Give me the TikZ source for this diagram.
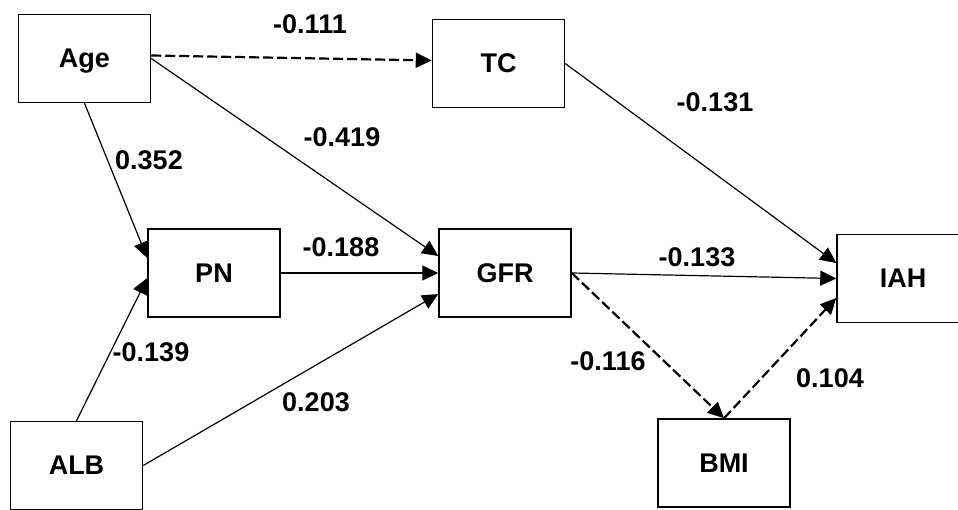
\documentclass[tikz,border=0pt]{standalone}
\usepackage{fontspec}
\setmainfont{Liberation Sans}
\usepackage{xcolor}
\usepackage{tikz}
\usetikzlibrary{arrows.meta}
\definecolor{pmInk}{HTML}{000000}
\definecolor{pmPaper}{HTML}{FFFFFF}
\tikzset{
  pm diagram/.style={font=\bfseries\fontsize{27}{32}\selectfont, text=pmInk,
    line join=miter},
  pm box/.style={draw=pmInk, fill=pmPaper, line width=1.5pt,
    minimum width=132pt, minimum height=88pt, inner sep=0pt, text depth=0pt},
  pm arrow/.style={-{Triangle[length=16pt,width=15pt]}, draw=pmInk, line width=1.2pt},
  pm weak/.style={pm arrow, line width=2.2pt, dash pattern=on 10pt off 4pt},
  pm label/.style={inner sep=0pt, text depth=0pt}
}

\begin{document}
\begin{tikzpicture}[pm diagram,x=1pt,y=-1pt]
\clip (0,0) rectangle (958,510);
\fill[pmPaper] (0,0) rectangle (958,510);
% variables
\foreach \id/\x/\y/\txt in {age/84.5/58.5/Age, tc/498.5/63.5/TC, pn/214/273/PN,
  gfr/505/273/GFR, iah/903/278.5/IAH, alb/76.5/465.5/ALB, bmi/724/463/BMI}
  \node[pm box] (\id) at (\x,\y) {\txt};
% paths
\draw[pm weak] ([yshift=3pt]age.east) -- ([yshift=3pt]tc.west);
\draw[pm arrow] (age.east) -- ([yshift=17pt]gfr.west);
\draw[pm arrow] (age.south) -- ([yshift=15pt]pn.west);
\draw[pm arrow] (alb.north) -- ([yshift=-5pt]pn.west);
\draw[pm arrow] (pn.east) -- (gfr.west);
\draw[pm arrow] (alb.east) -- ([yshift=-21pt]gfr.west);
\draw[pm arrow] (tc.east) -- ([yshift=15.5pt]iah.west);
\draw[pm arrow] (gfr.east) -- (iah.west);
\draw[pm weak] (gfr.east) -- (bmi.north);
\draw[pm weak] (bmi.north) -- ([yshift=-19.5pt]iah.west);
% coefficients
\foreach \id/\x/\y/\txt in {wAgeTc/310/24/-0.111, wAgeGfr/342/137/-0.419,
  wAgePn/149/160/0.352, wPnGfr/341/247/-0.188, wTcIah/715/102/-0.131,
  wGfrIah/697/257/-0.133, wAlbPn/151/352/-0.139, wAlbGfr/316/402/0.203,
  wGfrBmi/608/361/-0.116, wBmiIah/830/378/0.104}
  \node[pm label] (\id) at (\x,\y) {\txt};
\end{tikzpicture}
\end{document}
